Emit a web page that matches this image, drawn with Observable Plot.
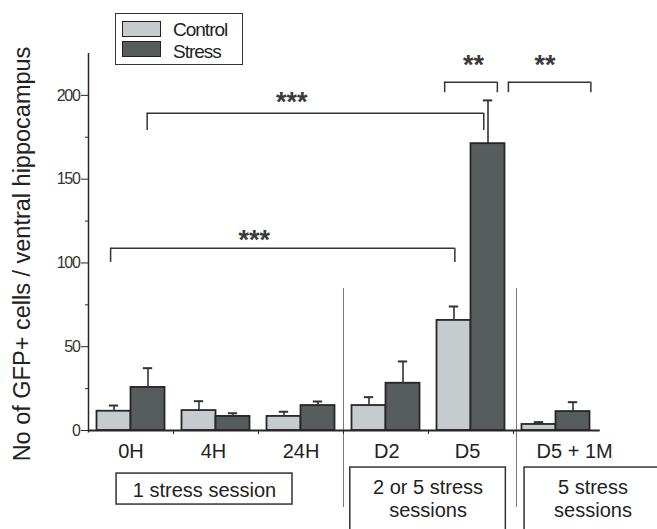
<!DOCTYPE html>
<html>
<head>
<meta charset="utf-8">
<script src="https://cdn.jsdelivr.net/npm/d3@7"></script>
<script src="https://cdn.jsdelivr.net/npm/@observablehq/plot@0.6"></script>
<style>
  html, body { margin: 0; padding: 0; background: #fff; overflow: hidden; }
  #wrap { position: relative; width: 657px; height: 529px; font-family: "Liberation Sans", Arial, sans-serif; }
  #wrap svg { font-family: "Liberation Sans", Arial, sans-serif; }
  [aria-label="y-axis tick label"] { font-size: 16px; }
  [aria-label="y-axis tick label"] text { letter-spacing: -1.3px; }
  #legend { position: absolute; left: 115px; top: 13px; width: 126px; height: 50px; border: 1.5px solid #333; background: #fff; }
  #legend .sw { position: absolute; left: 6px; width: 37px; height: 14px; border: 1.5px solid #222; }
  #legend .lb { position: absolute; left: 57px; font-size: 19px; letter-spacing: -1px; color: #222; line-height: 19px; }
</style>
</head>
<body>
<div id="wrap"></div>
<script>
// ---- data ----
const categories = ["0H", "4H", "24H", "D2", "D5", "D5 + 1M"];
const seriesNames = ["Control", "Stress"];
const seriesColors = ["#c6cbce", "#575c5c"];
const controlMean = [11.5, 11.9, 8.4, 14.9, 65.7, 3.6];
const controlSem  = [3.4, 5.6, 2.8, 5.0, 8.3, 1.4];
const stressMean  = [25.7, 8.4, 14.9, 28.2, 171.2, 11.3];
const stressSem   = [11.5, 1.9, 2.4, 13.0, 25.8, 5.6];
const yTicks = [0, 50, 100, 150, 200];
const yMinorTicks = [25, 75, 125, 175];
const categoryLabelShift = [0, -0.03, 0, 0.01, -0.04, 0.22];

// significance brackets (x in category units, y in data units)
const bracketX1 = [-0.24, 0.19, 3.69, 4.44];
const bracketX2 = [3.81, 4.15, 4.31, 5.41];
const bracketY = [108.7, 189.4, 207.9, 207.9];
const bracketLegY = [100.3, 179.1, 201.6, 201.6];
const bracketLabel = ["***", "***", "**", "**"];
const bracketLabelX = [1.45, 1.89, 4.03, 4.87];
const bracketLabelY = [117.4, 200, 221.9, 221.9];

// session groups below the axis
const groupLabels = ["1 stress session", "2 or 5 stress\nsessions", "5 stress\nsessions"];
const groupX1 = [-0.17, 2.58, 4.63];
const groupX2 = [1.9, 4.41, 6.24];
const groupTop = [-25.7, -22.1, -22.1];
const groupBottom = [-44.2, -75, -75];
const groupTextY = [-35.3, -40.6, -40.6];
const separatorX = [2.5, 4.535];
const separatorTop = 84.8, separatorBottom = -46;

// ---- tables ----
const barWidth = 0.4;
const bars = categories.flatMap((c, i) => [
  {i, series: seriesNames[0], mean: controlMean[i], sem: controlSem[i], x1: i - barWidth, x2: i},
  {i, series: seriesNames[1], mean: stressMean[i], sem: stressSem[i], x1: i, x2: i + barWidth}
]);
bars.forEach(d => { d.xc = (d.x1 + d.x2) / 2; d.top = d.mean + d.sem; });
const brackets = bracketLabel.map((t, k) => ({
  x1: bracketX1[k], x2: bracketX2[k], y: bracketY[k], leg: bracketLegY[k],
  label: t, lx: bracketLabelX[k], ly: bracketLabelY[k]
}));
const legs = brackets.flatMap(b => [{x: b.x1, y1: b.leg, y2: b.y}, {x: b.x2, y1: b.leg, y2: b.y}]);
const groups = groupLabels.map((t, k) => ({
  label: t, x1: groupX1[k], x2: groupX2[k], y1: groupBottom[k], y2: groupTop[k],
  tx: (groupX1[k] + groupX2[k]) / 2, ty: groupTextY[k]
}));
const cats = categories.map((c, i) => ({c, x: i + categoryLabelShift[i]}));

const ink = "#262626";
const capHalf = 0.055;

const chart = Plot.plot({
  width: 657,
  height: 529,
  marginLeft: 88,
  marginRight: 59,
  marginTop: 53,
  marginBottom: 99,
  style: {background: "#fff", fontFamily: "Liberation Sans, Arial, sans-serif", overflow: "hidden"},
  x: {type: "linear", domain: [-0.5, 5.5]},
  y: {domain: [0, 225]},
  color: {domain: seriesNames, range: seriesColors},
  marks: [
    // separators
    Plot.ruleX(separatorX, {x: d => d, y1: separatorBottom, y2: separatorTop, stroke: "#777", strokeWidth: 1}),
    // bars
    Plot.rect(bars, {x1: "x1", x2: "x2", y1: 0, y2: "mean", fill: "series", stroke: ink, strokeWidth: 1.8}),
    // error bars
    Plot.ruleX(bars, {x: "xc", y1: "mean", y2: "top", stroke: "#333", strokeWidth: 1.6}),
    Plot.ruleY(bars, {y: "top", x1: d => d.xc - capHalf, x2: d => d.xc + capHalf, stroke: "#333", strokeWidth: 2}),
    // axes
    Plot.ruleX([-0.5], {y1: -1.5, y2: 225, stroke: ink, strokeWidth: 1.5}),
    Plot.ruleY([0], {x1: -0.5, x2: 5.52, stroke: ink, strokeWidth: 1.8}),
    Plot.axisY({ticks: yTicks, tickSize: 7, tickPadding: 2, fontSize: 16, stroke: ink, fill: "#333", label: null}),
    Plot.axisY({ticks: yMinorTicks, tickSize: 3, tickFormat: () => "", stroke: ink, label: null}),
    Plot.axisX({ticks: [0.5, 1.5, 2.5, 3.5, 4.5], tickSize: 4, tickFormat: () => "", stroke: ink, label: null}),
    Plot.text(cats, {x: "x", y: 0, text: "c", dy: 21, fontSize: 20, fill: "#222"}),
    // y label
    Plot.text(["No of GFP+ cells / ventral hippocampus"], {frameAnchor: "left", textAnchor: "middle", rotate: -90, dx: -66, dy: 12, fontSize: 23.5, fill: "#222"}),
    // brackets
    Plot.ruleY(brackets, {y: "y", x1: "x1", x2: "x2", stroke: "#333", strokeWidth: 1.5}),
    Plot.ruleX(legs, {x: "x", y1: "y1", y2: "y2", stroke: "#333", strokeWidth: 1.5}),
    Plot.text(brackets, {x: "lx", y: "ly", text: "label", fontSize: 27, fontWeight: "bold", fill: "#3a3a3a", dy: 7}),
    // group boxes
    Plot.rect(groups, {x1: "x1", x2: "x2", y1: "y1", y2: "y2", fill: "none", stroke: "#333", strokeWidth: 1.5}),
    Plot.text(groups, {x: "tx", y: "ty", text: "label", fontSize: 20, lineHeight: 1.15, fill: "#222"})
  ]
});

const wrap = document.getElementById("wrap");
wrap.appendChild(chart);

// legend
const legend = document.createElement("div");
legend.id = "legend";
seriesNames.forEach((name, k) => {
  const sw = document.createElement("div");
  sw.className = "sw";
  sw.style.top = (k === 0 ? 7 : 27) + "px";
  sw.style.background = seriesColors[k];
  legend.appendChild(sw);
  const lb = document.createElement("div");
  lb.className = "lb";
  lb.style.top = (k === 0 ? 6 : 28) + "px";
  lb.textContent = name;
  legend.appendChild(lb);
});
wrap.appendChild(legend);
</script>
</body>
</html>
